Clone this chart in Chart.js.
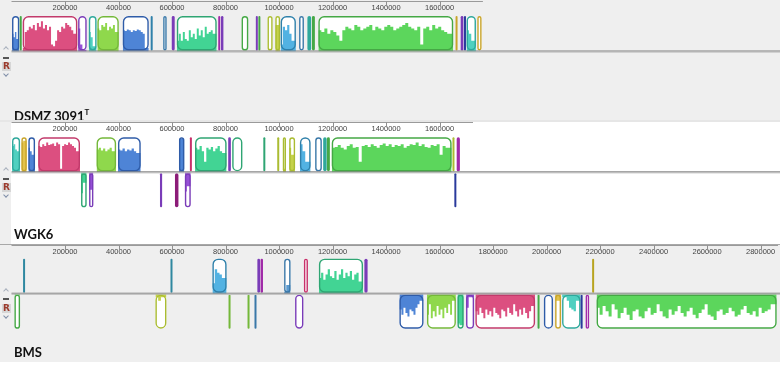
<!DOCTYPE html>
<html>
<head>
<meta charset="utf-8">
<script src="https://cdn.jsdelivr.net/npm/chart.js@4.4.1/dist/chart.umd.min.js"></script>
<style>
body { margin: 0; width: 780px; height: 367px; background: #fff; overflow: hidden; }
.panel { position: absolute; left: 0; width: 780px; }
.panel canvas { position: absolute; left: 0; top: 0; }
#p1 { top: 0; height: 120px; background: #efefef; }
#p2 { top: 120px; height: 125px; background: #fff; }
#p2 .strip { position: absolute; left: 0; top: 0; width: 11px; height: 124px; background: #efefef; }
#p2 .topband { position: absolute; left: 0; top: 0; width: 780px; height: 2px; background: #e6e6e6; }
#p2 .bottomline { position: absolute; left: 0; top: 124px; width: 780px; height: 1px; background: #a8a8a8; }
#p3 { top: 245px; height: 117px; background: #efefef; }
.name { position: absolute; left: 14px; font: bold 13px Lato, sans-serif; color: #111; line-height: 14px; white-space: nowrap; }
.name sup { font-size: 8px; position: relative; top: -1px; }
.up, .dn { position: absolute; left: 4px; width: 3px; height: 3px; transform: rotate(45deg); }
.up { border-left: 1.5px solid #a9b1bd; border-top: 1.5px solid #a9b1bd; }
.dn { border-right: 1.5px solid #7f8ea8; border-bottom: 1.5px solid #7f8ea8; }
.dash { position: absolute; left: 3px; width: 6px; height: 1.5px; background: #555; }
.r { position: absolute; left: 2px; font: bold 9px "DejaVu Sans", sans-serif; color: #9c3a2c; background: #d6d6d6; line-height: 9px; padding: 0 1px; }
</style>
</head>
<body>
<div class="panel" id="p1">
  <canvas id="c1" width="780" height="120"></canvas>
  <div class="up" style="top:47px"></div>
  <div class="dash" style="top:57px"></div>
  <div class="r" style="top:62px">R</div>
  <div class="dn" style="top:72px"></div>
  <div class="name" style="top:106px">DSMZ 3091<sup>T</sup></div>
</div>
<div class="panel" id="p2">
  <div class="strip"></div>
  <div class="topband"></div>
  <canvas id="c2" width="780" height="124"></canvas>
  <div class="bottomline"></div>
  <div class="up" style="top:48px"></div>
  <div class="dash" style="top:58px"></div>
  <div class="r" style="top:63px">R</div>
  <div class="dn" style="top:73px"></div>
  <div class="name" style="top:107px">WGK6</div>
</div>
<div class="panel" id="p3">
  <canvas id="c3" width="780" height="117"></canvas>
  <div class="up" style="top:44px"></div>
  <div class="dash" style="top:53px"></div>
  <div class="r" style="top:59px">R</div>
  <div class="dn" style="top:69px"></div>
  <div class="name" style="top:100px">BMS</div>
</div>

<script>
// axis (bp)
var tickValues = [200000, 400000, 600000, 800000, 1000000, 1200000, 1400000, 1600000, 1800000, 2000000, 2200000, 2400000, 2600000, 2800000]
var axisMax = 2865000
var dsmzLength = 1762000
var wgk6Length = 1725000
var bmsLength = 2865000

// similarity profiles, fraction of the block height, left to right
var dsmzBlueA = [0.45, 0.5, 0.4, 0.55, 0.35]
var dsmzPink = [0.05, 0.1, 0.55, 0.6, 0.7, 0.65, 0.75, 0.6, 0.8, 0.7, 0.85, 0.65, 0.75, 0.6, 0.7, 0.2, 0.15, 0.3, 0.6, 0.55, 0.7, 0.65, 0.8, 0.75, 0.7, 0.6, 0.5]
var dsmzPurple = [0.7, 0.65, 0.2, 0.05]
var dsmzTeal = [0.6, 0.55, 0.4, 0.15]
var dsmzLime = [0.5, 0.65, 0.6, 0.75, 0.7, 0.8, 0.6, 0.7, 0.65, 0.75, 0.55]
var dsmzBlueB = [0.55, 0.6, 0.58, 0.62, 0.6, 0.55, 0.6, 0.58, 0.62, 0.6, 0.55, 0.5, 0.1]
var dsmzMint = [0.25, 0.3, 0.5, 0.3, 0.55, 0.35, 0.3, 0.6, 0.4, 0.5, 0.35, 0.65, 0.45, 0.6, 0.4, 0.7, 0.5, 0.55, 0.6, 0.5]
var dsmzOlive = [0.8, 0.75]
var dsmzSky = [0.1, 0.2, 0.7, 0.6, 0.75, 0.5, 0.3]
var dsmzGreen = [0.5, 0.6, 0.55, 0.65, 0.5, 0.6, 0.55, 0.45, 0.3, 0.6, 0.7, 0.65, 0.6, 0.75, 0.7, 0.6, 0.65, 0.7, 0.75, 0.6, 0.7, 0.65, 0.6, 0.7, 0.75, 0.7, 0.6, 0.65, 0.7, 0.75, 0.8, 0.7, 0.65, 0.6, 0.7, 0.2, 0.65, 0.7, 0.6, 0.75, 0.65, 0.7, 0.6, 0.55, 0.5]
var dsmzTealB = [0.7, 0.6, 0.5, 0.3]

var wgkTeal = [0.7, 0.75, 0.8, 0.65, 0.6]
var wgkGold = [0.9, 0.85, 0.9]
var wgkBlueA = [0.55, 0.7, 0.6, 0.5]
var wgkPink = [0.7, 0.75, 0.72, 0.8, 0.75, 0.85, 0.78, 0.8, 0.82, 0.75, 0.85, 0.8, 0.1, 0.75, 0.8, 0.78, 0.85, 0.8, 0.75, 0.7, 0.6]
var wgkLime = [0.6, 0.65, 0.7, 0.62, 0.68, 0.6, 0.65, 0.7, 0.6]
var wgkBlueB = [0.6, 0.65, 0.62, 0.68, 0.6, 0.65, 0.62, 0.68, 0.6, 0.55]
var wgkMint = [0.6, 0.7, 0.65, 0.75, 0.6, 0.3, 0.7, 0.65, 0.72, 0.6, 0.68, 0.75, 0.6, 0.55]
var wgkSky = [0.85, 0.8, 0.6, 0.3]
var wgkGreen = [0.75, 0.7, 0.72, 0.78, 0.7, 0.65, 0.75, 0.8, 0.7, 0.72, 0.3, 0.75, 0.78, 0.72, 0.8, 0.75, 0.7, 0.78, 0.82, 0.75, 0.8, 0.72, 0.78, 0.75, 0.8, 0.7, 0.75, 0.8, 0.78, 0.85, 0.75, 0.8, 0.72, 0.7, 0.78, 0.75, 0.8, 0.5, 0.75, 0.7]

var bmsSky = [0.1, 0.3, 0.7, 0.6, 0.55, 0.45]
var bmsMint = [0.3, 0.45, 0.6, 0.4, 0.55, 0.7, 0.5, 0.45, 0.65, 0.4, 0.55, 0.7, 0.45, 0.6, 0.5, 0.65, 0.4, 0.55, 0.6, 0.35]
var bmsBlue = [0.5, 0.45, 0.6, 0.4, 0.55, 0.65, 0.45, 0.5, 0.6, 0.4, 0.3, 0.2]
var bmsLime = [0.4, 0.6, 0.3, 0.7, 0.5, 0.65, 0.35, 0.6, 0.45, 0.7, 0.4, 0.55, 0.3, 0.6, 0.2]
var bmsPink = [0.35, 0.5, 0.6, 0.4, 0.55, 0.7, 0.45, 0.6, 0.5, 0.65, 0.4, 0.55, 0.6, 0.7, 0.45, 0.5, 0.65, 0.4, 0.55, 0.6, 0.3, 0.5, 0.65, 0.45, 0.6, 0.4, 0.55, 0.7, 0.5, 0.35]
var bmsTeal = [0.05, 0.1, 0.1, 0.2, 0.4, 0.45, 0.5, 0.2]
var bmsGreen = [0.55, 0.4, 0.6, 0.35, 0.5, 0.65, 0.3, 0.45, 0.7, 0.55, 0.4, 0.6, 0.75, 0.5, 0.45, 0.65, 0.7, 0.5, 0.4, 0.6, 0.55, 0.3, 0.5, 0.65, 0.7, 0.45, 0.6, 0.5, 0.35, 0.55, 0.65, 0.5, 0.4, 0.6, 0.7, 0.55, 0.45, 0.3, 0.6, 0.65, 0.75, 0.5, 0.45, 0.6, 0.55, 0.4, 0.5, 0.65, 0.6, 0.45, 0.35, 0.55, 0.6, 0.5, 0.65, 0.4, 0.55, 0.5, 0.45, 0.3]

// LCBs: [start bp, end bp, lcb, profile]  null = solid sliver, [] = empty block
var dsmzUp = [
    [2000, 29000, 'blue', dsmzBlueA],
    [32000, 37000, 'green', null],
    [42000, 246000, 'pink', dsmzPink],
    [249000, 281000, 'purple', dsmzPurple],
    [289000, 318000, 'teal', dsmzTeal],
    [321000, 401000, 'lime', dsmzLime],
    [416000, 513000, 'blue', dsmzBlueB],
    [521000, 527000, 'sky', null],
    [567000, 580000, 'steel', []],
    [599000, 610000, 'purple', null],
    [618000, 767000, 'mint', dsmzMint],
    [773000, 780000, 'magenta', null],
    [783000, 792000, 'purple', null],
    [860000, 885000, 'green', []],
    [914000, 920000, 'purple', null],
    [924000, 929000, 'green', null],
    [957000, 976000, 'olive', []],
    [986000, 1004000, 'olive', dsmzOlive],
    [1006000, 1063000, 'sky', dsmzSky],
    [1075000, 1093000, 'steel', []],
    [1106000, 1120000, 'teal', null],
    [1123000, 1134000, 'green', null],
    [1147000, 1651000, 'green', dsmzGreen],
    [1661000, 1666000, 'gold', null],
    [1679000, 1689000, 'purple', null],
    [1693000, 1697000, 'navy', null],
    [1701000, 1736000, 'teal', dsmzTealB],
    [1741000, 1757000, 'gold', []]
]
var dsmzDown = []

var wgkUp = [
    [2000, 32000, 'teal', wgkTeal],
    [37000, 57000, 'gold', wgkGold],
    [63000, 88000, 'blue', wgkBlueA],
    [100000, 256000, 'pink', wgkPink],
    [318000, 391000, 'lime', wgkLime],
    [398000, 483000, 'blue', wgkBlueB],
    [626000, 646000, 'blue', [0.95, 0.95, 0.95]],
    [668000, 673000, 'crimson', null],
    [686000, 804000, 'mint', wgkMint],
    [810000, 820000, 'purple', null],
    [825000, 863000, 'mint', []],
    [943000, 947000, 'mint', null],
    [995000, 999000, 'olive', null],
    [1014000, 1026000, 'olive', [0.3, 0.1]],
    [1038000, 1060000, 'olive', [0.2, 0.7, 0.5]],
    [1078000, 1118000, 'sky', wgkSky],
    [1135000, 1160000, 'steel', []],
    [1165000, 1178000, 'teal', null],
    [1179000, 1190000, 'green', null],
    [1197000, 1645000, 'green', wgkGreen],
    [1650000, 1654000, 'olive', null],
    [1664000, 1676000, 'magenta', null]
]
var wgkDown = [
    [260000, 281000, 'mint', [0.8, 0.6, 0.3]],
    [290000, 306000, 'purple', [0.8, 0.5]],
    [555000, 563000, 'purple', null],
    [611000, 624000, 'plum', null],
    [648000, 670000, 'purple', [0.6, 0.55, 0.4]],
    [1657000, 1661000, 'navy', null]
]

var bmsUp = [
    [45000, 49000, 'petrol', null],
    [596000, 600000, 'petrol', null],
    [751000, 804000, 'sky', bmsSky],
    [919000, 929000, 'purple', null],
    [931000, 940000, 'magenta', null],
    [1019000, 1043000, 'steel', [0.05, 0.05, 0.25]],
    [1093000, 1108000, 'crimson', []],
    [1149000, 1314000, 'mint', bmsMint],
    [1319000, 1331000, 'purple', null],
    [2172000, 2176000, 'mustard', null]
]
var bmsDown = [
    [11000, 32000, 'green', [0.1, 0.05]],
    [538000, 579000, 'olive', [0.15, 0.1, 0.2, 0.1]],
    [813000, 817000, 'lime', null],
    [884000, 888000, 'lime', null],
    [910000, 914000, 'steel', null],
    [1060000, 1091000, 'purple', []],
    [1450000, 1540000, 'blue', bmsBlue],
    [1553000, 1661000, 'lime', bmsLime],
    [1667000, 1690000, 'mint', [0.9, 0.85, 0.9]],
    [1699000, 1729000, 'purple', [0.6, 0.4, 0.1]],
    [1734000, 1957000, 'pink', bmsPink],
    [1968000, 1972000, 'green', null],
    [1990000, 2024000, 'blue', []],
    [2032000, 2054000, 'gold', [0.3, 0.2]],
    [2058000, 2127000, 'teal', bmsTeal],
    [2129000, 2133000, 'navy', null],
    [2146000, 2159000, 'magenta', []],
    [2187000, 2860000, 'green', bmsGreen]
]

// lcb -> [profile fill, outline]
var lcbColors = {
    pink: ['#dc4f80', '#c23a6b'],
    blue: ['#4e84d6', '#2f5ca8'],
    green: ['#5cd65c', '#45a845'],
    lime: ['#8fd84c', '#74b83a'],
    mint: ['#42d494', '#2fa573'],
    teal: ['#4fd0c0', '#2fa89c'],
    sky: ['#52b2e2', '#2f80aa'],
    steel: ['#5a9ad0', '#3a78a8'],
    purple: ['#9650d6', '#7a3cb8'],
    magenta: ['#c23ec8', '#a02aa8'],
    olive: ['#c5d24a', '#aabc32'],
    gold: ['#e2c24a', '#c8a42a'],
    navy: ['#3a4ab0', '#2a3a9c'],
    crimson: ['#d84070', '#c8306a'],
    plum: ['#9a2a88', '#8c1c78'],
    petrol: ['#3a98b0', '#2f88a0'],
    mustard: ['#c8b428', '#b8a420']
}

function boxRect(x, y, b, sign) {
    let x1 = x.getPixelForValue(b[0])
    let x2 = x.getPixelForValue(b[1])
    let y0 = y.getPixelForValue(0)
    let top = sign > 0 ? y.getPixelForValue(1) : y0 + 1
    let bottom = sign > 0 ? y0 - 1 : y.getPixelForValue(-1)
    return {x: x1, y: top, w: x2 - x1, h: bottom - top}
}

const lcbPlugin = {
    id: 'lcbs',
    beforeDatasetsDraw(chart, args, opts) {
        const ctx = chart.ctx
        const x = chart.scales.x, y = chart.scales.y
        ctx.save()
        for (let [blocks, sign] of [[opts.up, 1], [opts.down, -1]]) {
            for (let b of blocks) {
                if (b[3] === null) continue
                let r = boxRect(x, y, b, sign)
                ctx.fillStyle = '#fff'
                ctx.beginPath()
                ctx.roundRect(r.x, r.y, r.w, r.h, Math.min(5, r.w / 2))
                ctx.fill()
            }
        }
        ctx.restore()
    },
    afterDatasetsDraw(chart, args, opts) {
        const ctx = chart.ctx
        const x = chart.scales.x, y = chart.scales.y
        const area = chart.chartArea
        ctx.save()
        // block outlines and slivers
        for (let [blocks, sign] of [[opts.up, 1], [opts.down, -1]]) {
            for (let b of blocks) {
                let r = boxRect(x, y, b, sign)
                let col = lcbColors[b[2]]
                if (b[3] === null) {
                    let w = Math.max(r.w, 2)
                    ctx.fillStyle = col[1]
                    ctx.beginPath()
                    ctx.roundRect(r.x + r.w / 2 - w / 2, r.y, w, r.h, w / 2)
                    ctx.fill()
                } else {
                    ctx.strokeStyle = col[1]
                    ctx.lineWidth = 1.4
                    ctx.beginPath()
                    ctx.roundRect(r.x + 0.7, r.y + 0.7, r.w - 1.4, r.h - 1.4, Math.min(5, r.w / 2 - 0.7))
                    ctx.stroke()
                }
            }
        }
        // centre line
        let y0 = y.getPixelForValue(0)
        ctx.fillStyle = '#808080'
        ctx.fillRect(area.left, y0 - 1, area.right - area.left + 2, 1)
        ctx.fillStyle = '#b4b4b4'
        ctx.fillRect(area.left, y0, area.right - area.left + 2, 1)
        // genome ruler
        ctx.fillStyle = '#9a9a9a'
        let xEnd = x.getPixelForValue(opts.length)
        ctx.fillRect(area.left, opts.axisY - 0.5, xEnd - area.left, 1)
        ctx.fillStyle = '#909090'
        for (let t of x.ticks) {
            let px = Math.round(x.getPixelForValue(t.value))
            ctx.fillRect(px, opts.axisY, 1, 5)
        }
        ctx.restore()
    }
}

function profileSets(blocks, sign) {
    let sets = []
    for (let b of blocks) {
        let p = b[3]
        if (!p || p.length == 0) continue
        let step = (b[1] - b[0]) / p.length
        let pts = p.map((v, i) => ({x: b[0] + i * step, y: sign * v}))
        pts.push({x: b[1], y: sign * p[p.length - 1]})
        sets.push({
            data: pts,
            stepped: 'after',
            fill: 'origin',
            backgroundColor: lcbColors[b[2]][0],
            borderWidth: 0,
            pointRadius: 0
        })
    }
    return sets
}

function makePanel(id, geom, length, up, down) {
    let ctx = document.getElementById(id).getContext('2d')
    return new Chart(ctx, {
        type: 'line',
        data: {datasets: profileSets(up, 1).concat(profileSets(down, -1))},
        options: {
            animation: false,
            responsive: false,
            devicePixelRatio: 1,
            events: [],
            layout: {padding: {left: 11.5, right: 2, top: geom.padTop, bottom: geom.padBottom}},
            plugins: {
                legend: {display: false},
                tooltip: {enabled: false},
                lcbs: {up: up, down: down, length: length, axisY: geom.padTop + 0.5}
            },
            scales: {
                x: {
                    type: 'linear',
                    position: 'top',
                    min: 0,
                    max: axisMax,
                    afterBuildTicks: (s) => {
                        s.ticks = tickValues.filter(v => v <= length).map(v => ({value: v}))
                    },
                    afterFit: (s) => { s.height = 12 },
                    grid: {display: false, drawTicks: false},
                    border: {display: false},
                    ticks: {
                        autoSkip: false,
                        maxRotation: 0,
                        padding: 1,
                        color: '#444',
                        font: {family: 'Liberation Sans', size: 7.5},
                        callback: (v) => String(v)
                    }
                },
                y: {display: false, min: -geom.range, max: geom.range}
            }
        },
        plugins: [lcbPlugin]
    })
}

makePanel('c1', {padTop: 1, padBottom: 30, range: 38.5 / 35.5}, dsmzLength, dsmzUp, dsmzDown)
makePanel('c2', {padTop: 2, padBottom: 33.4, range: 38.3 / 35}, wgk6Length, wgkUp, wgkDown)
makePanel('c3', {padTop: 0, padBottom: 31.6, range: 36.7 / 35}, bmsLength, bmsUp, bmsDown)
</script>
</body>
</html>
